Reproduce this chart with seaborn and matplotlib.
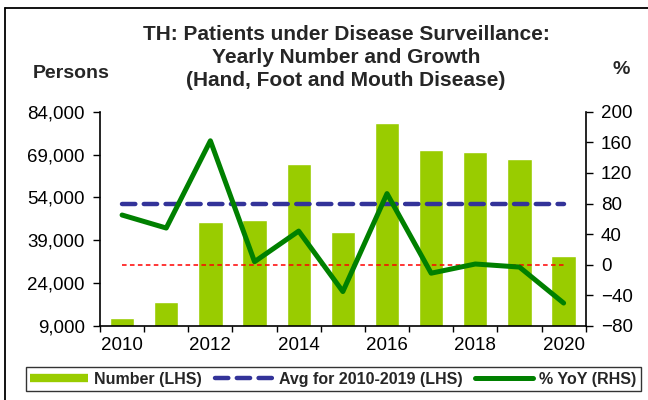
import numpy as np
import matplotlib
matplotlib.use("Agg")
import matplotlib.pyplot as plt
from matplotlib.lines import Line2D
from matplotlib.ticker import FuncFormatter
import seaborn as sns

years  = [2010, 2011, 2012, 2013, 2014, 2015, 2016, 2017, 2018, 2019, 2020]
counts = [11800, 17400, 45400, 46000, 65700, 41800, 80200, 70600, 69900, 67600, 33500]
yoy    = [65, 48, 162, 4, 44, -35, 93, -11, 1, -3, -50]

left_ticks  = [9000, 24000, 39000, 54000, 69000, 84000]
right_ticks = [-80, -40, 0, 40, 80, 120, 160, 200]
year_labels = ["2010", "2012", "2014", "2016", "2018", "2020"]

BAR_COL  = "#99CC00"
AVG_COL  = "#333399"
LINE_COL = "#008000"

sns.set_theme(style="white")
plt.rcParams["font.family"] = ["Liberation Sans", "DejaVu Sans"]

fig = plt.figure(figsize=(6.48, 4.0), dpi=100)
ax = fig.add_axes([100/648, 1 - 326/400, 485.7/648, 214.3/400])

pos = np.arange(len(years))
sns.barplot(x=pos, y=counts, ax=ax, color=BAR_COL, saturation=1, width=0.55)

avg = np.mean(counts[:10])
ax.plot([pos[0], pos[-1]], [avg, avg], color=AVG_COL, lw=3.2,
        dashes=(3.0, 1.9), dash_capstyle="round")

ax2 = ax.twinx()
ax2.plot([pos[0], pos[-1]], [0, 0], color="red", lw=1.1, dashes=(3, 2.2))
sns.lineplot(x=pos, y=yoy, ax=ax2, color=LINE_COL, lw=3.6)

ax.set_xlim(-0.5, len(years) - 0.5)
ax.set_ylim(left_ticks[0], left_ticks[-1])
ax2.set_ylim(right_ticks[0], right_ticks[-1])
ax.set_yticks(left_ticks)
ax.yaxis.set_major_formatter(FuncFormatter(lambda v, p: f"{int(v):,}"))
ax2.set_yticks(right_ticks)

ax.set_xticks(np.arange(-0.5, len(years), 1))
ax.set_xticklabels([])
ax.set_xticks(pos[::2], minor=True)
ax.set_xticklabels(year_labels, minor=True)
ax.tick_params(axis="x", which="major", direction="out", length=4, width=1, color="black", bottom=True)
ax.tick_params(axis="x", which="minor", length=0, pad=8, labelsize=13.5, labelcolor="black")
ax.tick_params(axis="y", direction="out", length=5, width=1, color="black", left=True, pad=6, labelsize=13.5, labelcolor="black")
ax2.tick_params(axis="y", direction="out", length=5, width=1, color="black", right=True, pad=6, labelsize=13.5, labelcolor="black")

for a in (ax, ax2):
    a.set_xlabel("")
    a.set_ylabel("")
    a.spines["top"].set_visible(False)
    for s in ("left", "right", "bottom"):
        a.spines[s].set_color("black")
        a.spines[s].set_linewidth(1.2)
ax.spines["right"].set_visible(False)
ax2.spines["left"].set_visible(False)
ax2.spines["bottom"].set_visible(False)

fig.text(0.534, 1 - 25/400, "TH: Patients under Disease Surveillance:\nYearly Number and Growth\n(Hand, Foot and Mouth Disease)",
         ha="center", va="top", fontsize=15, fontweight="bold", linespacing=1.25)
fig.text(71/648, 1 - 73/400, "Persons", ha="center", va="center", fontsize=14, fontweight="bold")
fig.text(621/648, 1 - 69/400, "%", ha="center", va="center", fontsize=14, fontweight="bold")

handles = [
    Line2D([], [], color=BAR_COL, lw=6, solid_capstyle="butt"),
    Line2D([], [], color=AVG_COL, lw=3.2, dashes=(3.0, 1.9), dash_capstyle="round"),
    Line2D([], [], color=LINE_COL, lw=3.6, solid_capstyle="round"),
]
leg = fig.legend(handles, ["Number (LHS)", "Avg for 2010-2019 (LHS)", "% YoY (RHS)"],
                 loc="lower left", bbox_to_anchor=(26/648, 1 - 391/400),
                 ncol=3, frameon=True, fancybox=False, handlelength=3.6,
                 handletextpad=0.4, columnspacing=0.8, borderaxespad=0, borderpad=0.28,
                 prop={"weight": "bold", "size": 11.5})
leg.get_frame().set_edgecolor("black")
leg.get_frame().set_linewidth(1.0)

fig.add_artist(Line2D([5/648, 1], [1 - 8/400, 1 - 8/400], color="black", lw=1.3, transform=fig.transFigure))
fig.add_artist(Line2D([5/648, 5/648], [0, 1 - 8/400], color="black", lw=1.3, transform=fig.transFigure))

fig.savefig("out.png", dpi=100)
